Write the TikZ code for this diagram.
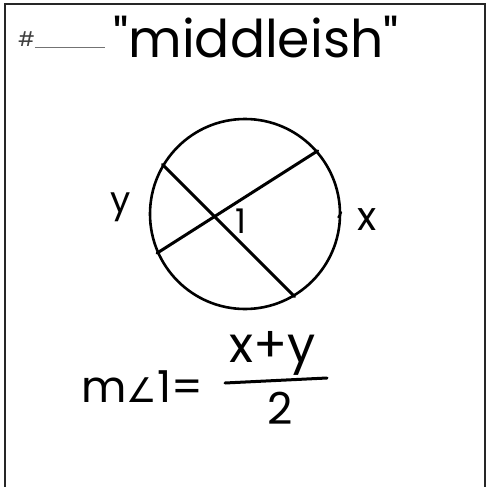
\documentclass[tikz,border=0pt]{standalone}
\usepackage{fontspec}
\setmainfont{Poppins}[Ligatures=TeXOff]
\newfontfamily\symfont{DejaVu Sans}
\usetikzlibrary{positioning}

\begin{document}
\begin{tikzpicture}[
    x=1pt, y=-1pt,
    frame/.style={line width=2.6pt, draw=black!85},
    ink/.style={line width=3pt, draw=black, line cap=round},
    title/.style={font=\fontsize{52}{52}\selectfont, inner sep=0pt},
    arclabel/.style={font=\fontsize{40}{40}\selectfont, inner sep=0pt},
    formula/.style={font=\fontsize{44}{44}\selectfont, inner sep=0pt}
]
\useasboundingbox (0,0) rectangle (490,487);

% card outline
\draw [frame] (5,487) -- (5,4) -- (485,4) -- (485,487);

% header
\node (num) [inner sep=0pt, text=black!75, font=\fontsize{20}{20}\selectfont, anchor=base west]
    at (18,47) {\#\textcolor{black!55}{\rule[-1.5pt]{70pt}{1.3pt}}};
\node (name) [title, anchor=base] at (256,58) {"middleish"};

% circle and chords
\node (circ) [circle, draw, line width=2.6pt, minimum size=190pt, inner sep=0pt] at (245,214) {};
\draw [ink] (circ.149) -- (circ.-59);
\draw [ink] (circ.204) -- (circ.41);
\draw [ink, line width=2pt] (circ.1) -- ++(-3,5);

% arc and angle labels
\node (y) [arclabel, font=\fontsize{36}{36}\selectfont] at (121,207) {y};
\node (one) [arclabel, font=\fontsize{34}{34}\selectfont] at (241,221) {1};
\node (x) [arclabel] at (367,220) {x};

% formula
\node (lhs) [formula, anchor=base west] at (81,402) {m{\symfont\fontsize{34}{34}\selectfont∠}1=};
\node (numer) [formula, font=\fontsize{50}{50}\selectfont, anchor=base] at (273,362) {x+y};
\node (denom) [formula, anchor=base] at (280,424) {2};
\coordinate (barL) at (225,383);
\coordinate (barR) at (327,378);
\draw [ink] (barL) -- (barR);

\end{tikzpicture}
\end{document}
